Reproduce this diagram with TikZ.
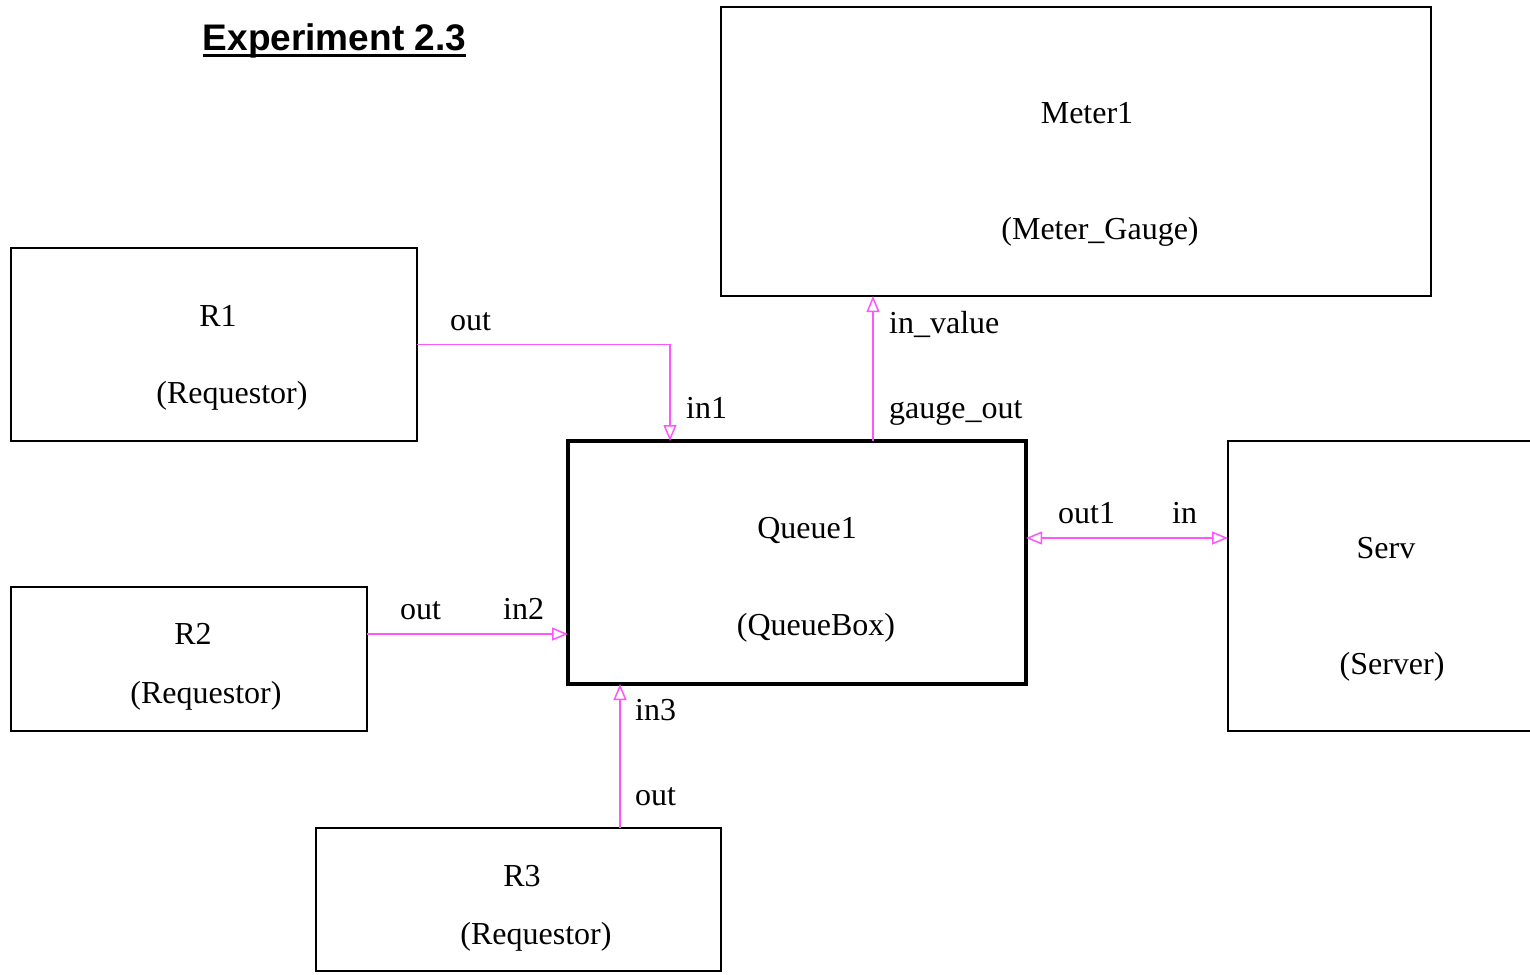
\documentclass[tikz,border=0pt]{standalone}
\usepackage{fontspec}
\setmainfont{Liberation Serif}
\newfontfamily\titlefont{Liberation Sans}
\usetikzlibrary{arrows.meta}
\definecolor{conn}{RGB}{255,85,255}
\begin{document}
\begin{tikzpicture}[x=1pt,y=-1pt,
  box/.style={draw=black,line width=2.5pt,inner sep=0pt,outer sep=0pt},
  qbox/.style={draw=black,line width=4.5pt,inner sep=0pt,outer sep=0pt},
  txt/.style={inner sep=0pt,anchor=base,font=\fontsize{32}{36}\selectfont},
  lbl/.style={inner sep=0pt,anchor=base west,font=\fontsize{32}{36}\selectfont},
  tip/.style={Triangle[open,length=16pt,width=13pt]},
  conn/.style={draw=conn,line width=1.5pt,-{Triangle[open,length=16pt,width=13pt]}},
  conn2/.style={draw=conn,line width=1.5pt,{Triangle[open,length=16pt,width=13pt]}-{Triangle[open,length=16pt,width=13pt]}}
]
\useasboundingbox (0,0) rectangle (1530,974);
\clip (0,0) rectangle (1530,974);
% title
\node[inner sep=0pt,anchor=base,font=\titlefont\bfseries\fontsize{37}{40}\selectfont] (title) at (334.5,51) {Experiment 2.3};
\draw[line width=2.5pt] ([yshift=-4.5pt]title.base west) -- ([yshift=-4.5pt]title.base east);
% boxes
\node[box,minimum width=406pt,minimum height=193pt] (R1) at (214,344.5) {};
\node[box,minimum width=356pt,minimum height=144pt] (R2) at (189,659) {};
\node[box,minimum width=405pt,minimum height=143pt] (R3) at (518.5,899.5) {};
\node[qbox,minimum width=458pt,minimum height=243pt] (Q) at (797,562.5) {};
\node[box,minimum width=710pt,minimum height=289pt] (M) at (1076,151.5) {};
\node[box,minimum width=330pt,minimum height=290pt] (S) at (1393,586) {};
% box texts
\node[txt] (r1a) at (218,326) {R1};
\node[txt] (r1b) at (232,403) {(Requestor)};
\node[txt] (r2a) at (193,644) {R2};
\node[txt] (r2b) at (206,703) {(Requestor)};
\node[txt] (r3a) at (522,886) {R3};
\node[txt] (r3b) at (536,944) {(Requestor)};
\node[txt] (qa) at (807,538) {Queue1};
\node[txt] (qb) at (816,635) {(QueueBox)};
\node[txt] (ma) at (1087,123) {Meter1};
\node[txt] (mb) at (1100,239) {(Meter\_Gauge)};
\node[txt] (sa) at (1386,558) {Serv};
\node[txt] (sb) at (1392,674) {(Server)};
% connectors
\draw[conn] (R1.east) -| (Q.north -| 670,0);
\draw[conn] (Q.north -| 873,0) -- (M.south -| 873,0);
\draw[conn2] (Q.east |- 0,538) -- (S.west |- 0,538);
\draw[conn] (R2.east |- 0,634) -- (Q.west |- 0,634);
\draw[conn] (R3.north -| 620,0) -- (Q.south -| 620,0);
% port labels
\node[lbl] (l1) at (450,330) {out};
\node[lbl] (l2) at (686,418) {in1};
\node[lbl] (l3) at (889,333) {in\_value};
\node[lbl] (l4) at (889,418) {gauge\_out};
\node[lbl] (l5) at (1058,523) {out1};
\node[lbl] (l6) at (1172,523) {in};
\node[lbl] (l7) at (400,619) {out};
\node[lbl] (l8) at (503,619) {in2};
\node[lbl] (l9) at (635,720) {in3};
\node[lbl] (l10) at (635,805) {out};
\end{tikzpicture}
\end{document}
